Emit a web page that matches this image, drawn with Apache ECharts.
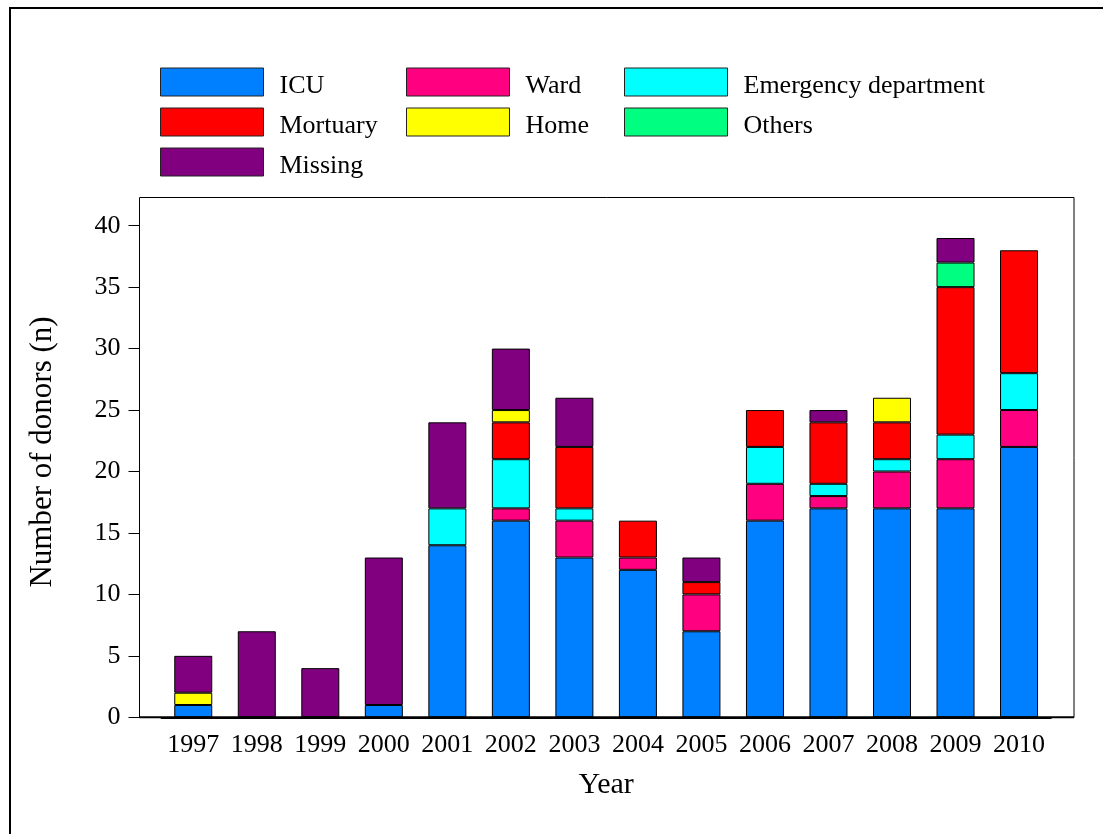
<!DOCTYPE html>
<html>
<head>
<meta charset="utf-8">
<script src="https://cdn.jsdelivr.net/npm/echarts@6/dist/echarts.min.js"></script>
<style>html,body{margin:0;padding:0;background:#fff}#c{width:1103px;height:834px}</style>
</head>
<body>
<div id="c"></div>
<script>
const years = ['1997','1998','1999','2000','2001','2002','2003','2004','2005','2006','2007','2008','2009','2010'];
const icu       = [1, 0, 0, 1, 14, 16, 13, 12, 7, 16, 17, 17, 17, 22];
const ward      = [0, 0, 0, 0, 0, 1, 3, 1, 3, 3, 1, 3, 4, 3];
const emergency = [0, 0, 0, 0, 3, 4, 1, 0, 0, 3, 1, 1, 2, 3];
const mortuary  = [0, 0, 0, 0, 0, 3, 5, 3, 1, 3, 5, 3, 12, 10];
const home      = [1, 0, 0, 0, 0, 1, 0, 0, 0, 0, 0, 2, 0, 0];
const others    = [0, 0, 0, 0, 0, 0, 0, 0, 0, 0, 0, 0, 2, 0];
const missing   = [3, 7, 4, 12, 7, 5, 4, 0, 2, 0, 1, 0, 2, 0];
const yTicks = [0, 5, 10, 15, 20, 25, 30, 35, 40];

const seriesDefs = [
  ['ICU', icu, '#0080FF'],
  ['Ward', ward, '#FF0080'],
  ['Emergency department', emergency, '#00FFFF'],
  ['Mortuary', mortuary, '#FF0000'],
  ['Home', home, '#FFFF00'],
  ['Others', others, '#00FF80'],
  ['Missing', missing, '#800080']
];

const font = 'Liberation Serif, Times New Roman, serif';
const chart = echarts.init(document.getElementById('c'), null, {renderer: 'canvas'});

const legendCommon = {
  orient: 'vertical', itemWidth: 103, itemHeight: 28, itemGap: 6, padding: 0,
  selectedMode: false, icon: 'rect',
  itemStyle: {borderColor: '#222', borderWidth: 1},
  formatter: '{t|{name}}',
  textStyle: {
    fontFamily: font, fontSize: 26, color: '#000', padding: [0, 0, 0, 11],
    rich: {t: {fontFamily: font, fontSize: 26, color: '#000', lineHeight: 22, padding: [8, 0, 0, 0]}}
  }
};

chart.setOption({
  animation: false,
  backgroundColor: '#fff',
  graphic: [
    {type: 'rect', shape: {x: 10, y: 8, width: 1200, height: 1000}, style: {fill: 'none', stroke: '#000', lineWidth: 2}, z: 0},
    {type: 'rect', shape: {x: 139.5, y: 197.5, width: 934.5, height: 520}, style: {fill: 'none', stroke: '#000', lineWidth: 1}, z: 100},
    {type: 'line', shape: {x1: 139.5, y1: 717.3, x2: 1074, y2: 717.3}, style: {stroke: '#000', lineWidth: 2}, z: 100}
  ],
  legend: [
    Object.assign({left: 160, top: 65, data: ['ICU', 'Mortuary', 'Missing']}, legendCommon),
    Object.assign({left: 406, top: 65, data: ['Ward', 'Home']}, legendCommon),
    Object.assign({left: 624, top: 65, data: ['Emergency department', 'Others']}, legendCommon)
  ],
  grid: {left: 161.5, right: 52.2, top: 225.7, bottom: 116.7, containLabel: false},
  xAxis: {
    type: 'category', data: years,
    axisLine: {show: true, lineStyle: {color: '#000', width: 2}},
    axisTick: {show: false},
    axisLabel: {fontFamily: font, fontSize: 26, color: '#000', margin: 15, interval: 0},
    name: 'Year', nameLocation: 'middle', nameGap: 53,
    nameTextStyle: {fontFamily: font, fontSize: 30, color: '#000'}
  },
  yAxis: {
    type: 'value', min: yTicks[0], max: yTicks[yTicks.length - 1], interval: 5, offset: 22,
    splitLine: {show: false},
    axisLine: {show: true, lineStyle: {color: '#000', width: 1}},
    axisTick: {show: true, inside: false, length: 11, lineStyle: {color: '#000'}},
    axisLabel: {fontFamily: font, fontSize: 26, color: '#000', margin: 19},
    name: 'Number of donors (n)', nameLocation: 'middle', nameGap: 81,
    nameTextStyle: {fontFamily: font, fontSize: 31, color: '#000', padding: [0, 0, 0, 39]}
  },
  series: seriesDefs.map(([name, arr, color]) => ({
    name: name, type: 'bar', stack: 'total', barWidth: 38,
    itemStyle: {color: color, borderColor: '#000', borderWidth: 1},
    data: arr.map(v => v === 0 ? '-' : v)
  }))
});
</script>
</body>
</html>
